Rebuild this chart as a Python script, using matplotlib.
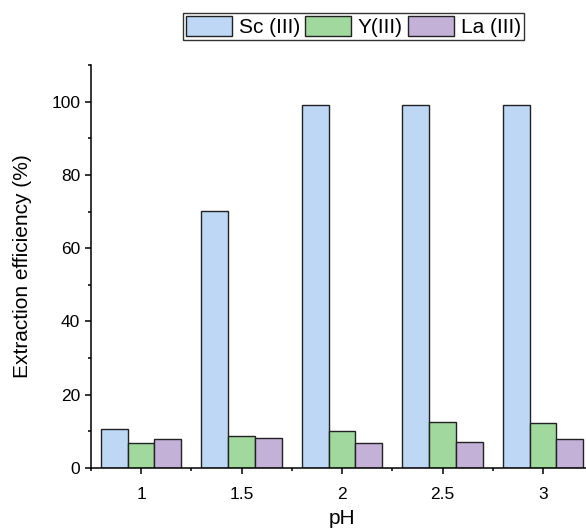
import numpy as np
import matplotlib.pyplot as plt
from matplotlib.ticker import MultipleLocator, FixedLocator

# Datos
ph_labels = ['1', '1.5', '2', '2.5', '3']
sc_vals = [10.6, 70.2, 99.0, 99.0, 99.0]
y_vals = [6.8, 8.8, 10.0, 12.5, 12.3]
la_vals = [7.9, 8.2, 6.8, 7.0, 7.8]

series_names = ['Sc (III)', 'Y(III)', 'La (III)']
colors = ['#BDD7F5', '#A0D89D', '#C3B1D7']

plt.rcParams['font.family'] = ['Liberation Sans', 'DejaVu Sans']

fig = plt.figure(figsize=(5.86, 5.31), dpi=100)
ax = fig.add_axes([90.75 / 586, 1 - 468 / 531, 502.5 / 586, 403 / 531])

x = np.arange(len(ph_labels))
w = 0.8 / 3
handles = []
for i, (vals, name, c) in enumerate(zip([sc_vals, y_vals, la_vals], series_names, colors)):
    b = ax.bar(x + (i - 1) * w, vals, width=w, color=c, edgecolor='#222222',
               linewidth=1.0, label=name)
    handles.append(b)

ax.set_xlim(-0.5, len(ph_labels) - 0.5)
ax.set_ylim(0, 110)
ax.set_xticks(x)
ax.set_xticklabels(ph_labels)
ax.xaxis.set_minor_locator(FixedLocator(np.arange(-0.5, len(ph_labels), 1.0)))
ax.set_yticks([0, 20, 40, 60, 80, 100])
ax.yaxis.set_minor_locator(MultipleLocator(10))

ax.spines['top'].set_visible(False)
ax.spines['right'].set_visible(False)
for s in ['left', 'bottom']:
    ax.spines[s].set_linewidth(1.1)

ax.tick_params(axis='both', which='major', direction='out', length=4.5, width=1.1,
               labelsize=12.5)
ax.tick_params(axis='y', which='major', pad=3)
ax.tick_params(axis='x', which='major', pad=9)
ax.tick_params(axis='both', which='minor', direction='out', length=2.5, width=1.1)

ax.set_ylabel('Extraction efficiency (%)', fontsize=15, labelpad=14)
ax.set_xlabel('pH', fontsize=15, labelpad=5)

leg = fig.legend(handles=handles, loc='upper left', bbox_to_anchor=(183 / 586, 1 - 13 / 531),
                 ncol=3, fontsize=15, frameon=True, fancybox=False, edgecolor='black',
                 handlelength=2.2, handleheight=1.1, handletextpad=0.33, columnspacing=0.25,
                 borderpad=0.15, borderaxespad=0)
leg.get_frame().set_linewidth(1.0)

fig.savefig('out.png', dpi=100)
